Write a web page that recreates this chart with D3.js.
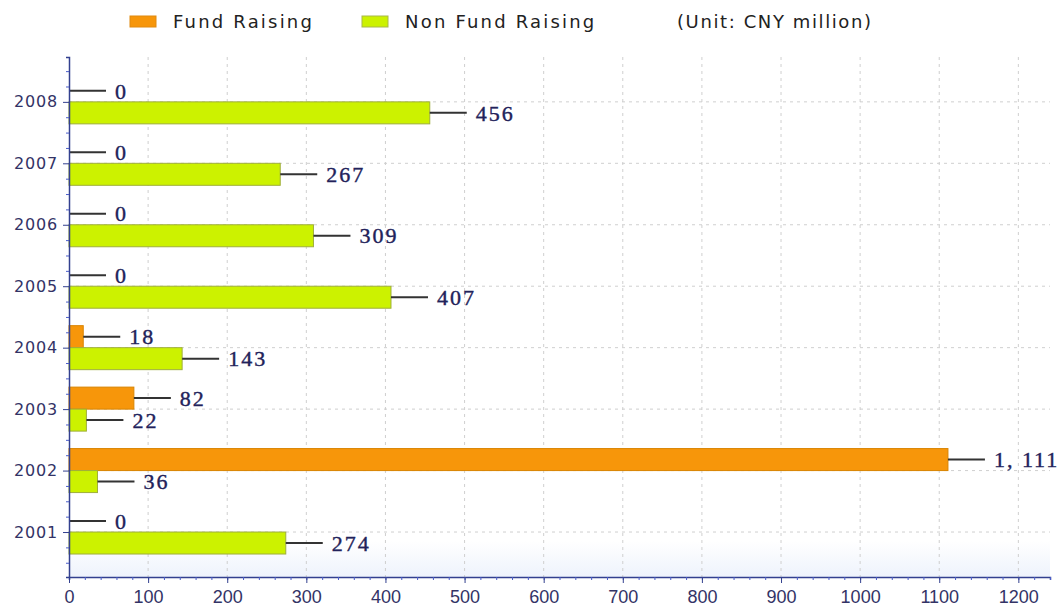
<!DOCTYPE html>
<html>
<head>
<meta charset="utf-8">
<script src="https://cdn.jsdelivr.net/npm/d3@7"></script>
<style>
  body { margin: 0; background: #fff; }
  svg { display: block; }
</style>
</head>
<body>
<svg width="1060" height="612"></svg>
<script>
const years = ["2001", "2002", "2003", "2004", "2005", "2006", "2007", "2008"];
const fundRaising = [0, 1111, 82, 18, 0, 0, 0, 0];
const nonFundRaising = [274, 36, 22, 143, 407, 309, 267, 456];
const xTicks = [0, 100, 200, 300, 400, 500, 600, 700, 800, 900, 1000, 1100, 1200];

const svg = d3.select("svg");

const plotLeft = 69, plotRight = 1050, plotTop = 57, plotBottom = 577;
const barH = 22;

const x = d3.scaleLinear().domain([0, 1240]).range([plotLeft, plotRight]);
// category index -> y, tick sits between the two bars of a year
const y = d3.scaleLinear().domain([-0.732, 7.73]).range([plotBottom, plotTop]);

// background
const defs = svg.append("defs");
const grad = defs.append("linearGradient").attr("id", "bg").attr("x1", 0).attr("y1", 0).attr("x2", 0).attr("y2", 1);
grad.append("stop").attr("offset", "0%").attr("stop-color", "#ffffff");
grad.append("stop").attr("offset", "93%").attr("stop-color", "#ffffff");
grad.append("stop").attr("offset", "100%").attr("stop-color", "#eef3fc");
svg.append("rect")
    .attr("x", plotLeft).attr("y", plotTop)
    .attr("width", plotRight - plotLeft).attr("height", plotBottom - plotTop)
    .attr("fill", "url(#bg)");

// grid
svg.append("g").selectAll("line")
    .data(xTicks.slice(1))
    .join("line")
    .attr("x1", d => x(d)).attr("x2", d => x(d))
    .attr("y1", plotTop).attr("y2", plotBottom)
    .attr("stroke", "#cfcfcf").attr("stroke-dasharray", "3,4");

svg.append("g").selectAll("line")
    .data(d3.range(years.length))
    .join("line")
    .attr("x1", plotLeft).attr("x2", plotRight)
    .attr("y1", d => y(d)).attr("y2", d => y(d))
    .attr("stroke", "#cfcfcf").attr("stroke-dasharray", "3,4");

// bars
const series = [
  {key: "Fund Raising", values: fundRaising, fill: "#f7960a", stroke: "#d98400", off: -barH},
  {key: "Non Fund Raising", values: nonFundRaising, fill: "#ccf200", stroke: "#9fae3c", off: 0}
];

series.forEach(s => {
  const g = svg.append("g");
  g.selectAll("rect")
    .data(s.values.map((v, i) => ({v, i})).filter(d => d.v > 0))
    .join("rect")
    .attr("x", x(0))
    .attr("y", d => y(d.i) + s.off)
    .attr("width", d => x(d.v) - x(0))
    .attr("height", barH)
    .attr("fill", s.fill)
    .attr("stroke", s.stroke)
    .attr("stroke-width", 1);
});

// value labels with leader lines
const fmt = v => d3.format(",")(v).replace(",", ", ");
series.forEach(s => {
  const g = svg.append("g");
  const items = s.values.map((v, i) => ({v, i, ym: y(i) + s.off + barH / 2}));
  g.selectAll("line")
    .data(items)
    .join("line")
    .attr("x1", d => x(d.v)).attr("x2", d => x(d.v) + 37)
    .attr("y1", d => d.ym).attr("y2", d => d.ym)
    .attr("stroke", "#333").attr("stroke-width", 2);
  g.selectAll("text")
    .data(items)
    .join("text")
    .attr("x", d => x(d.v) + 46)
    .attr("y", d => d.ym)
    .attr("dy", "0.35em")
    .attr("font-family", "'Liberation Serif', 'DejaVu Serif', serif")
    .attr("font-size", "22px")
    .attr("letter-spacing", "2px")
    .attr("fill", "#22225a")
    .attr("stroke", "#22225a")
    .attr("stroke-width", 0.4)
    .text(d => fmt(d.v));
});

// x axis
const xAxisG = svg.append("g").attr("transform", `translate(0,${plotBottom})`);
xAxisG.call(d3.axisBottom(x).tickValues(d3.range(0, 1241, 20)).tickSize(3).tickFormat(""))
    .call(g => g.selectAll(".tick line").attr("stroke", "#4a5cc8"));
xAxisG.append("g").call(d3.axisBottom(x).tickValues(xTicks).tickFormat(d3.format("d")).tickSize(6).tickPadding(7))
    .call(g => g.select(".domain").remove())
    .call(g => g.selectAll(".tick line").attr("stroke", "#33408f"))
    .call(g => g.selectAll("text")
        .attr("font-family", "'Liberation Sans', Arial, sans-serif")
        .attr("font-size", "18px")
        .attr("fill", "#333366"));
xAxisG.select(".domain").attr("stroke", "#33408f").attr("stroke-width", 1.5);

// y axis
const yAxisG = svg.append("g").attr("transform", `translate(${plotLeft},0)`);
yAxisG.call(d3.axisLeft(y).tickValues(d3.range(-0.5, 7.73, 0.25).filter(v => v % 1 !== 0)).tickSize(3).tickFormat(""))
    .call(g => g.selectAll(".tick line").attr("stroke", "#4a5cc8"));
yAxisG.append("g").call(d3.axisLeft(y).tickValues(d3.range(years.length)).tickFormat(i => years[i]).tickSize(6).tickPadding(5))
    .call(g => g.select(".domain").remove())
    .call(g => g.selectAll(".tick line").attr("stroke", "#33408f"))
    .call(g => g.selectAll("text")
        .attr("font-family", "'DejaVu Sans', Verdana, sans-serif")
        .attr("font-size", "16px")
        .attr("letter-spacing", "0.8px")
        .attr("fill", "#333366"));
yAxisG.select(".domain").attr("stroke", "#33408f").attr("stroke-width", 1.5);

// legend
const legend = svg.append("g").attr("class", "legend");
const legendItems = [
  {label: "Fund Raising", fill: "#f7960a", stroke: "#e08a10", x: 130},
  {label: "Non Fund Raising", fill: "#ccf200", stroke: "#a8b84a", x: 362}
];
legendItems.forEach(d => {
  legend.append("rect")
      .attr("x", d.x).attr("y", 16)
      .attr("width", 26).attr("height", 11)
      .attr("fill", d.fill).attr("stroke", d.stroke);
  legend.append("text")
      .attr("x", d.x + 43).attr("y", 28)
      .attr("font-family", "'DejaVu Sans', Verdana, sans-serif")
      .attr("font-size", "18px")
      .attr("letter-spacing", "2.2px")
      .attr("fill", "#222")
      .text(d.label);
});
legend.append("text")
    .attr("x", 677).attr("y", 28)
    .attr("font-family", "'DejaVu Sans', Verdana, sans-serif")
    .attr("font-size", "18px")
    .attr("letter-spacing", "1.6px")
    .attr("fill", "#222")
    .text("(Unit: CNY million)");
</script>
</body>
</html>
